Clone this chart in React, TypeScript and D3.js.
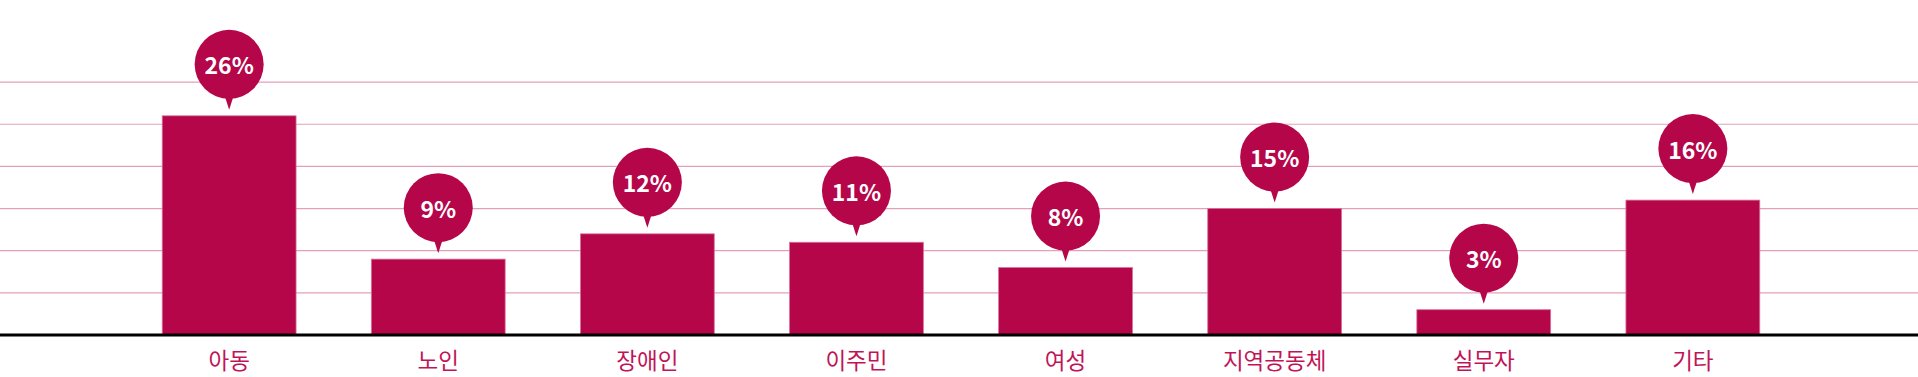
import React from "react";
import * as d3 from "d3";

// 사업 대상별 비율 (%)
const categories = ["아동", "노인", "장애인", "이주민", "여성", "지역공동체", "실무자", "기타"];
const shares = [26, 9, 12, 11, 8, 15, 3, 16];
const gridValues = [5, 10, 15, 20, 25, 30];

const W = 1918;
const H = 377;
const BASE_Y = 335;

const BAR = "#b5064a";
const GRID = "#e3a0bb";
const FONT = "'Noto Sans CJK KR', 'Noto Sans', sans-serif";

export default function App() {
  const x = d3
    .scaleBand<string>()
    .domain(categories)
    .range([124.6, 1797.4])
    .paddingInner(0.36)
    .paddingOuter(0.18);

  const y = d3.scaleLinear().domain([0, 40]).range([BASE_Y, BASE_Y - 40 * 8.43]);

  const r = 34.5;
  const lift = 51.5; // bubble centre above bar top
  const tipGap = 6; // pointer tip above bar top

  return (
    <svg
      width={W}
      height={H}
      viewBox={`0 0 ${W} ${H}`}
      style={{ position: "absolute", left: 0, top: 0, background: "#fff" }}
    >
      {gridValues.map((v) => (
        <line key={v} x1={0} x2={W} y1={y(v)} y2={y(v)} stroke={GRID} strokeWidth={1.2} />
      ))}

      {categories.map((c, i) => {
        const v = shares[i];
        const bx = x(c) as number;
        const bw = x.bandwidth();
        const top = y(v);
        const cx = bx + bw / 2;
        const cy = top - lift;
        const tip = top - tipGap;
        const pointer = d3.path();
        pointer.moveTo(cx - 4.5, cy + r - 3);
        pointer.lineTo(cx, tip);
        pointer.lineTo(cx + 4.5, cy + r - 3);
        pointer.closePath();
        return (
          <g key={c}>
            <rect
              x={bx}
              y={top}
              width={bw}
              height={BASE_Y - top}
              fill={BAR}
              stroke="#d9709c"
              strokeWidth={0.8}
            />
            <circle cx={cx} cy={cy} r={r} fill={BAR} />
            <path d={pointer.toString()} fill={BAR} />
            <text
              x={cx}
              y={cy}
              textAnchor="middle"
              dominantBaseline="central"
              fill="#fff"
              fontFamily={FONT}
              fontWeight={700}
              fontSize={23}
            >
              {`${v}%`}
            </text>
            <text
              x={cx}
              y={369}
              textAnchor="middle"
              fill="#bf1558"
              fontFamily={FONT}
              fontSize={22.5}
            >
              {c}
            </text>
          </g>
        );
      })}

      <line x1={0} x2={W} y1={BASE_Y} y2={BASE_Y} stroke="#000" strokeWidth={3} />
    </svg>
  );
}
